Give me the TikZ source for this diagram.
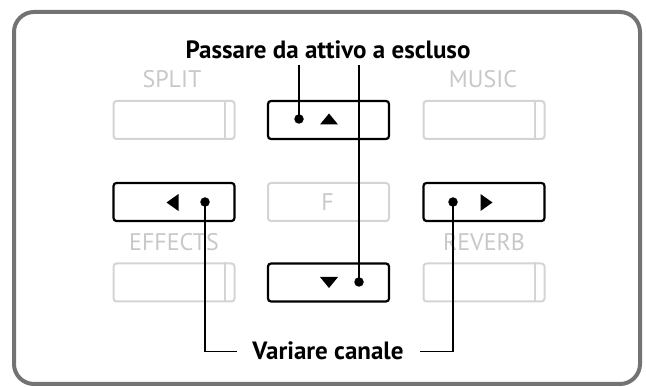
\documentclass[tikz,border=0pt]{standalone}
\usepackage{fontspec}
\newfontfamily\lblfont{PT Sans}
\definecolor{framegray}{HTML}{737373}
\definecolor{keygray}{HTML}{D4D4D4}
\definecolor{lblgray}{HTML}{C8C8C8}
\tikzset{
  outerframe/.style={draw=framegray, line width=4pt, rounded corners=20pt},
  keyon/.style={draw=black, line width=2.2pt, rounded corners=3pt, minimum width=121pt, minimum height=38pt, inner sep=0pt},
  keyoff/.style={draw=keygray, line width=2pt, rounded corners=3pt, minimum width=121pt, minimum height=38pt, inner sep=0pt},
  keydot/.style={circle, fill=black, inner sep=0pt, minimum size=9.5pt},
  lead/.style={line width=1.3pt, line cap=rect},
  graylbl/.style={text=lblgray, inner sep=0pt, anchor=base, font=\lblfont\fontsize{24}{24}\selectfont},
  boldlbl/.style={text=black, inner sep=0pt, anchor=base, font=\lblfont\bfseries\fontsize{25}{25}\selectfont},
}
\begin{document}
\begin{tikzpicture}[x=1pt,y=-1pt]
\useasboundingbox (0,0) rectangle (646,387);
% outer frame
\draw[outerframe] (14,12) rectangle (640,384);

% gray keys
\node[keyoff] (split) at (174,120) {};
\node[keyoff] (music) at (484,120) {};
\node[keyoff] (fkey) at (328.5,202) {};
\node[keyoff] (effects) at (174,282.5) {};
\node[keyoff] (reverb) at (484,282.5) {};
\draw[draw=keygray, line width=2pt] ([xshift=-11pt]split.north east) -- ([xshift=-11pt]split.south east);
\draw[draw=keygray, line width=2pt] ([xshift=-11pt]music.north east) -- ([xshift=-11pt]music.south east);
\draw[draw=keygray, line width=2pt] ([xshift=-11pt]effects.north east) -- ([xshift=-11pt]effects.south east);
\draw[draw=keygray, line width=2pt] ([xshift=-11pt]reverb.north east) -- ([xshift=-11pt]reverb.south east);

% gray labels
\node[graylbl] (splitlbl) at (172,88) {SPLIT};
\node[graylbl] (musiclbl) at (483,88) {MUSIC};
\node[graylbl] (effectslbl) at (174,250.5) {EFFECTS};
\node[graylbl] (reverblbl) at (484,250.5) {REVERB};
\node[graylbl] (flbl) at (327.5,210.5) {F};

% active keys
\node[keyon] (up) at (328.5,120) {};
\node[keyon] (down) at (328.5,282.5) {};
\node[keyon] (left) at (174,202) {};
\node[keyon] (right) at (484,202) {};

% arrows in keys
\fill (320,124.5) -- (338,124.5) -- (329,113.5) -- cycle;
\fill (320,277) -- (338,277) -- (329,288) -- cycle;
\fill (178.5,194) -- (178.5,211) -- (166.5,202.5) -- cycle;
\fill (480.5,194) -- (480.5,211) -- (492.5,202.5) -- cycle;

% dots
\node[keydot] (updot) at (299,119) {};
\node[keydot] (downdot) at (359,282) {};
\node[keydot] (leftdot) at (205,202) {};
\node[keydot] (rightdot) at (453,202) {};

% bold labels
\node[boldlbl] (title) at (328,58.5) {Passare da attivo a escluso};
\node[boldlbl] (varlbl) at (328,359.3) {Variare canale};

% leader lines
\coordinate (t1) at (299,66);
\coordinate (t2) at (359,66);
\coordinate (vl) at (236,351.7);
\coordinate (vr) at (421,351.7);
\draw[lead] (t1) -- (updot.center);
\draw[lead] (t2) -- (downdot.center);
\draw[lead] (leftdot.center) |- (vl);
\draw[lead] (rightdot.center) |- (vr);
\end{tikzpicture}
\end{document}
